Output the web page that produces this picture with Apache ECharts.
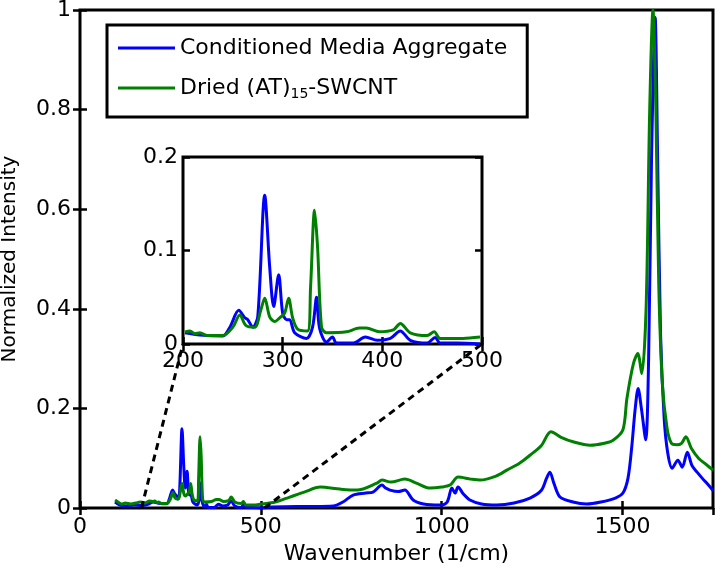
<!DOCTYPE html>
<html><head><meta charset="utf-8">
<script src="https://cdn.jsdelivr.net/npm/echarts@6/dist/echarts.min.js"></script>
<style>html,body{margin:0;padding:0;background:#fff}#c{width:717px;height:574px}</style>
</head><body><div id="c"></div>
<script>
// Conditioned Media Aggregate (blue)
const blueWavenumber = [97,110,130,150,170,190,202,217,240,247,256,262,265,270,275,282,287,291,296,300,304,307,312,324,330,334,337,344,350,354,371,383,395,408,418,428,445,453,458,475,498,
  530,600,650,700,727,755,790,810,835,845,857,880,898,921,950,995,1015,1028,1037,1045,1060,1078,1110,1152,1200,1244,1275,1290,1299,1310,1327,1363,1400,1440,1480,1501,1515,1525,1535,1543,1552,1564,1572,1580,1590,1597,1605,1615,1625,1637,1653,1665,1679,1692,1706,1720,1735,1750];
const blueIntensity = [0.012,0.006,0.004,0.006,0.005,0.008,0.012,0.0096,0.0086,0.018,0.036,0.028,0.026,0.018,0.029,0.159,0.082,0.04,0.074,0.033,0.026,0.026,0.012,0.006,0.018,0.05,0.017,0.002,0.0075,0.001,0.001,0.0075,0.004,0.006,0.014,0.004,0.001,0.007,0.001,0.001,0.0,
  0.002,0.003,0.003,0.004,0.012,0.026,0.03,0.032,0.046,0.04,0.036,0.033,0.036,0.016,0.008,0.006,0.012,0.04,0.03,0.042,0.028,0.016,0.008,0.006,0.01,0.02,0.035,0.06,0.072,0.05,0.022,0.012,0.008,0.012,0.02,0.03,0.06,0.12,0.2,0.24,0.2,0.137,0.3,0.7,0.985,0.7,0.35,0.18,0.11,0.08,0.096,0.082,0.112,0.085,0.072,0.06,0.048,0.035];
// Dried (AT)15-SWCNT (green)
const greenWavenumber = [97,105,115,125,140,155,166,180,192,202,207,212,217,224,240,250,257,263,272,278,282,287,292,297,302,306,310,315,325,328,332,335,339,344,364,377,384,397,411,418,428,445,452,458,481,498,
  540,580,620,664,719,766,821,835,860,898,930,968,1000,1023,1045,1080,1106,1150,1180,1215,1244,1275,1302,1330,1363,1410,1450,1474,1501,1512,1530,1542,1553,1565,1575,1584,1592,1600,1610,1623,1635,1650,1663,1675,1690,1710,1730,1750];
const greenIntensity = [0.016,0.012,0.008,0.01,0.008,0.01,0.012,0.01,0.014,0.013,0.014,0.011,0.012,0.009,0.009,0.018,0.031,0.02,0.018,0.036,0.049,0.029,0.024,0.028,0.033,0.049,0.028,0.016,0.014,0.061,0.143,0.104,0.018,0.012,0.013,0.017,0.017,0.013,0.015,0.022,0.012,0.009,0.013,0.006,0.006,0.0075,
  0.012,0.022,0.032,0.042,0.038,0.036,0.05,0.056,0.052,0.058,0.05,0.04,0.042,0.046,0.062,0.058,0.056,0.064,0.076,0.09,0.106,0.125,0.153,0.142,0.133,0.126,0.13,0.136,0.157,0.22,0.29,0.31,0.27,0.4,0.8,1.0,0.8,0.45,0.25,0.16,0.13,0.127,0.13,0.143,0.12,0.1,0.088,0.076];

const seriesNames = ['Conditioned Media Aggregate', 'Dried (AT)15-SWCNT'];
const mainXTicks = [0, 500, 1000, 1500];
const mainYTicks = [0, 0.2, 0.4, 0.6, 0.8, 1];
const insetXTicks = [200, 300, 400, 500];
const insetYTicks = [0, 0.1, 0.2];
const zoomAnchors = [170, 510]; // baseline points in main plot that connect to the inset corners

const pairs = (xs, ys) => xs.map((x, i) => [x, ys[i]]);
const within = (pts, lo, hi) => pts.filter(p => p[0] >= lo && p[0] <= hi);
const blueData = pairs(blueWavenumber, blueIntensity);
const greenData = pairs(greenWavenumber, greenIntensity);
const insetLo = insetXTicks[0], insetHi = insetXTicks[insetXTicks.length - 1];

const FONT = '"DejaVu Sans", "Liberation Sans", Arial, sans-serif';
const FS = 22;
const BLUE = '#0000FF', GREEN = '#008000';

function axisBase(extra) {
  return Object.assign({
    axisLine: { show: false },
    axisTick: { show: true, inside: true, length: 7, lineStyle: { color: '#000', width: 2.5 } },
    splitLine: { show: false },
    axisLabel: { color: '#000', fontFamily: FONT, fontSize: FS }
  }, extra);
}

const chart = echarts.init(document.getElementById('c'), null, { renderer: 'canvas' });
const option = {
  animation: false,
  backgroundColor: '#fff',
  grid: [
    { left: 80, top: 10, width: 633, height: 498, outerBoundsMode: 'none', containLabel: false,
      show: true, borderColor: '#000', borderWidth: 3, backgroundColor: 'transparent' },
    { left: 183, top: 157, width: 299, height: 187, outerBoundsMode: 'none', containLabel: false,
      show: true, borderColor: '#000', borderWidth: 3, backgroundColor: '#fff', z: 5 }
  ],
  xAxis: [
    axisBase({ type: 'value', gridIndex: 0, min: 0, max: 1750, interval: 500,
      axisLabel: { color: '#000', fontFamily: FONT, fontSize: FS, margin: 8, showMaxLabel: false,
        formatter: v => mainXTicks.includes(v) ? String(v) : '' },
      name: 'Wavenumber (1/cm)', nameLocation: 'middle', nameGap: 32,
      nameTextStyle: { color: '#000', fontFamily: FONT, fontSize: FS } }),
    axisBase({ type: 'value', gridIndex: 0, position: 'top', min: 0, max: 1750, interval: 500, axisLabel: { show: false } }),
    axisBase({ type: 'value', gridIndex: 1, min: insetLo, max: insetHi, interval: 100, z: 6,
      axisLabel: { color: '#000', fontFamily: FONT, fontSize: FS, margin: 6 } }),
    axisBase({ type: 'value', gridIndex: 1, position: 'top', min: insetLo, max: insetHi, interval: 100, z: 6, axisLabel: { show: false } })
  ],
  yAxis: [
    axisBase({ type: 'value', gridIndex: 0, min: 0, max: 1, interval: 0.2,
      axisLabel: { color: '#000', fontFamily: FONT, fontSize: FS, margin: 9 },
      name: 'Normalized Intensity', nameLocation: 'middle', nameGap: 60,
      nameTextStyle: { color: '#000', fontFamily: FONT, fontSize: 20 } }),
    axisBase({ type: 'value', gridIndex: 0, position: 'right', min: 0, max: 1, interval: 0.2, axisLabel: { show: false } }),
    axisBase({ type: 'value', gridIndex: 1, min: 0, max: 0.2, interval: 0.1, z: 6,
      axisLabel: { color: '#000', fontFamily: FONT, fontSize: FS, margin: 5 } }),
    axisBase({ type: 'value', gridIndex: 1, position: 'right', min: 0, max: 0.2, interval: 0.1, z: 6, axisLabel: { show: false } })
  ],
  legend: {
    orient: 'vertical', left: 107, top: 25, padding: [12, 20, 16, 11], itemGap: 18, itemTextGap: 10,
    icon: 'rect', itemWidth: 57, itemHeight: 3,
    backgroundColor: '#fff', borderColor: '#000', borderWidth: 3, z: 10,
    data: seriesNames,
    textStyle: { color: '#000', fontFamily: FONT, fontSize: FS,
      rich: { a: { fontFamily: FONT, fontSize: FS, color: '#000', lineHeight: 26 },
              s: { fontFamily: FONT, fontSize: 14, color: '#000', padding: [12, 0, 0, 0] } } },
    formatter: name => name === seriesNames[1] ? '{a|Dried (AT)}{s|15}{a|-SWCNT}' : '{a|' + name + '}'
  },
  series: [
    { name: seriesNames[0], type: 'line', xAxisIndex: 0, yAxisIndex: 0, data: blueData, symbol: 'none', smooth: 0.3,
      lineStyle: { color: BLUE, width: 3 }, itemStyle: { color: BLUE }, z: 2 },
    { name: seriesNames[1], type: 'line', xAxisIndex: 0, yAxisIndex: 0, data: greenData, symbol: 'none', smooth: 0.3,
      lineStyle: { color: GREEN, width: 3 }, itemStyle: { color: GREEN }, z: 3 },
    { name: seriesNames[0], type: 'line', xAxisIndex: 2, yAxisIndex: 2, data: within(blueData, insetLo, insetHi), symbol: 'none', smooth: 0.3,
      lineStyle: { color: BLUE, width: 3 }, itemStyle: { color: BLUE }, z: 7 },
    { name: seriesNames[1], type: 'line', xAxisIndex: 2, yAxisIndex: 2, data: within(greenData, insetLo, insetHi), symbol: 'none', smooth: 0.3,
      lineStyle: { color: GREEN, width: 3 }, itemStyle: { color: GREEN }, z: 8 }
  ]
};
chart.setOption(option);

// Dashed connectors from the main baseline to the inset's lower corners
const a0 = chart.convertToPixel({ xAxisIndex: 0, yAxisIndex: 0 }, [zoomAnchors[0], 0]);
const a1 = chart.convertToPixel({ xAxisIndex: 0, yAxisIndex: 0 }, [zoomAnchors[1], 0]);
const c0 = chart.convertToPixel({ xAxisIndex: 2, yAxisIndex: 2 }, [insetLo, 0]);
const c1 = chart.convertToPixel({ xAxisIndex: 2, yAxisIndex: 2 }, [insetHi, 0]);
const dash = { stroke: '#000', lineWidth: 3, lineDash: [7, 5] };
chart.setOption({
  graphic: [
    { type: 'line', z: 4, shape: { x1: a0[0], y1: a0[1], x2: c0[0], y2: c0[1] }, style: dash, silent: true },
    { type: 'line', z: 4, shape: { x1: a1[0], y1: a1[1], x2: c1[0], y2: c1[1] }, style: dash, silent: true }
  ]
});
</script>
</body></html>
